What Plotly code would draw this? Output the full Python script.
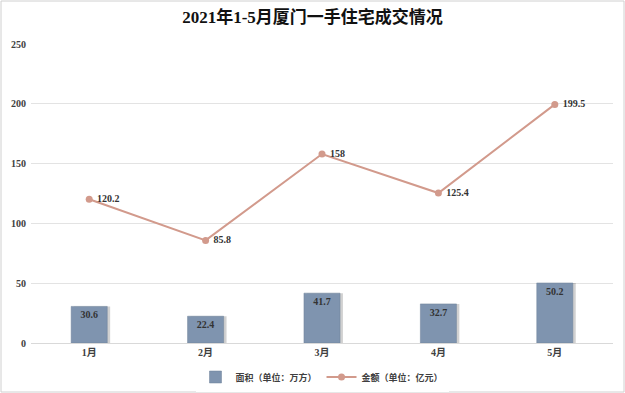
import plotly.graph_objects as go

months = ["1月", "2月", "3月", "4月", "5月"]
area = [30.6, 22.4, 41.7, 32.7, 50.2]
amount = [120.2, 85.8, 158, 125.4, 199.5]
y_ticks = [0, 50, 100, 150, 200, 250]

W, H = 625, 393
L, R, T, B = 31, 12, 44, 50
pw, ph = W - L - R, H - T - B

serif = "Liberation Serif, DejaVu Serif, Noto Sans CJK SC, serif"
bar_color = "#7f94af"
line_color = "#d29a8c"
bw = 0.31

fig = go.Figure()
# shadow for bars
fig.add_trace(go.Bar(
    x=months, y=area, width=bw, offset=-bw / 2 + 0.025,
    marker=dict(color="rgba(0,0,0,0.18)", line=dict(width=0)),
    showlegend=False, hoverinfo="skip",
))
fig.add_trace(go.Bar(
    x=months, y=area, width=bw, offset=-bw / 2,
    name="面积（单位：万方）",
    marker=dict(color=bar_color, line=dict(color="#6f8099", width=0.5)),
    text=[f"{v}" for v in area], textposition="inside", insidetextanchor="end",
    textfont=dict(family=serif, size=10, color="#333333", weight="bold"),
    cliponaxis=False,
))
fig.add_trace(go.Scatter(
    x=months, y=amount, mode="lines+markers+text",
    name="金额（单位：亿元）",
    line=dict(color=line_color, width=2),
    marker=dict(color=line_color, size=7),
    text=[f" {v}" for v in amount], textposition="middle right",
    textfont=dict(family=serif, size=10, color="#333333", weight="bold"),
    cliponaxis=False,
))

fig.update_layout(
    width=W, height=H,
    margin=dict(l=L, r=R, t=T, b=B, autoexpand=False),
    paper_bgcolor="white", plot_bgcolor="white",
    barmode="overlay",
    title=dict(text="<b>2021年1-5月厦门一手住宅成交情况</b>", x=0.5, xanchor="center",
               y=1 - 17 / H, yanchor="middle", automargin=False,
               font=dict(family=serif, size=17, color="#111111")),
    xaxis=dict(showgrid=False, showline=True, linecolor="#d9d9d9", linewidth=1,
               ticks="", automargin=False,
               tickfont=dict(family=serif, size=10, color="#404040", weight="bold"),
               range=[-0.5, 4.5]),
    yaxis=dict(range=[0, 250], tickvals=y_ticks, showgrid=True, gridcolor="#e3e3e3",
               gridwidth=1, zeroline=False, showline=False, ticks="", automargin=False,
               tickfont=dict(family=serif, size=10, color="#404040", weight="bold"),
               ticklabelstandoff=4),
    legend=dict(orientation="h", x=0.5, xanchor="center", y=-(377 - 343) / ph, yanchor="middle",
                font=dict(family=serif, size=9, color="#404040", weight="bold"),
                traceorder="normal", itemwidth=30),
    showlegend=True,
)
# outer border
fig.add_shape(type="rect", xref="paper", yref="paper",
              x0=-(L - 1) / pw, x1=1 + (R - 1) / pw, y0=-(B - 1) / ph, y1=1 + (T - 1) / ph,
              line=dict(color="#d0d0d0", width=1), fillcolor="rgba(0,0,0,0)", layer="below")

fig.write_html("out.html", config={"displayModeBar": False},
               post_script="document.body.style.margin='0';")
